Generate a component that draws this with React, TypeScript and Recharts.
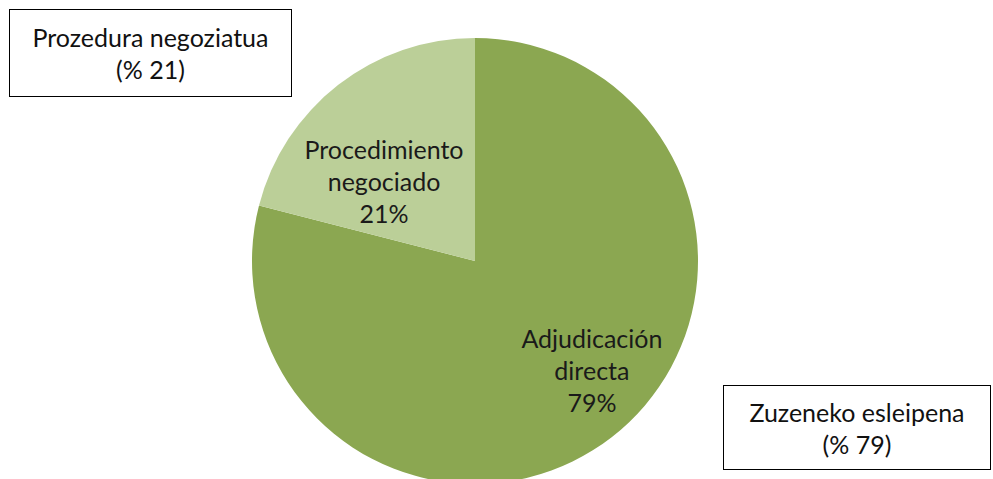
import React from 'react';
import { PieChart, Pie, Cell } from 'recharts';

const categories = ['Adjudicación directa', 'Procedimiento negociado'];
const shares = [79, 21];
const basqueLabels = ['Zuzeneko esleipena', 'Prozedura negoziatua'];

const colors = ['#8BA751', '#BBCF98'];
// label placement per slice (fraction of radius, angle tweak in degrees)
const labelPos = [
  { r: 0.717, da: 9.2 },
  { r: 0.543, da: 10.9 },
];

const data = categories.map((name, i) => ({ name, value: shares[i] }));

const FONT = 'Lato, "Open Sans", sans-serif';
const RAD = Math.PI / 180;

const renderLabel = (props: any) => {
  const { cx, cy, midAngle, outerRadius, index, name, value } = props;
  const pos = labelPos[index];
  const a = (midAngle + pos.da) * RAD;
  const x = cx + outerRadius * pos.r * Math.cos(a);
  const y = cy - outerRadius * pos.r * Math.sin(a);
  const words = String(name).split(' ');
  const lines = [...words, `${value}%`];
  const lh = 32;
  const y0 = y - ((lines.length - 1) * lh) / 2;
  return (
    <text x={x} y={y0} textAnchor="middle" dominantBaseline="central" fill="#1a1a1a" fontSize={25} fontFamily={FONT}>
      {lines.map((l, i) => (
        <tspan key={i} x={x} y={y0 + i * lh} dominantBaseline="central">
          {l}
        </tspan>
      ))}
    </text>
  );
};

const boxStyle: React.CSSProperties = {
  position: 'absolute',
  border: '1.5px solid #000',
  background: '#fff',
  boxSizing: 'border-box',
  display: 'flex',
  flexDirection: 'column',
  alignItems: 'center',
  justifyContent: 'center',
  fontFamily: FONT,
  fontSize: 25,
  lineHeight: '32px',
  color: '#111',
};

export default function App() {
  return (
    <div style={{ position: 'absolute', left: 0, top: 0, width: 993, height: 479, background: '#fff', overflow: 'hidden' }}>
      <PieChart width={993} height={479}>
        <Pie
          data={data}
          dataKey="value"
          cx={470}
          cy={256}
          outerRadius={223}
          startAngle={90}
          endAngle={-270}
          stroke="none"
          label={renderLabel}
          labelLine={false}
          isAnimationActive={false}
        >
          {data.map((d, i) => (
            <Cell key={d.name} fill={colors[i]} />
          ))}
        </Pie>
      </PieChart>
      <div style={{ ...boxStyle, left: 9, top: 9, width: 283, height: 88 }}>
        <div>{basqueLabels[1]}</div>
        <div>(% {shares[1]})</div>
      </div>
      <div style={{ ...boxStyle, left: 723, top: 385, width: 268, height: 85 }}>
        <div>{basqueLabels[0]}</div>
        <div>(% {shares[0]})</div>
      </div>
    </div>
  );
}
